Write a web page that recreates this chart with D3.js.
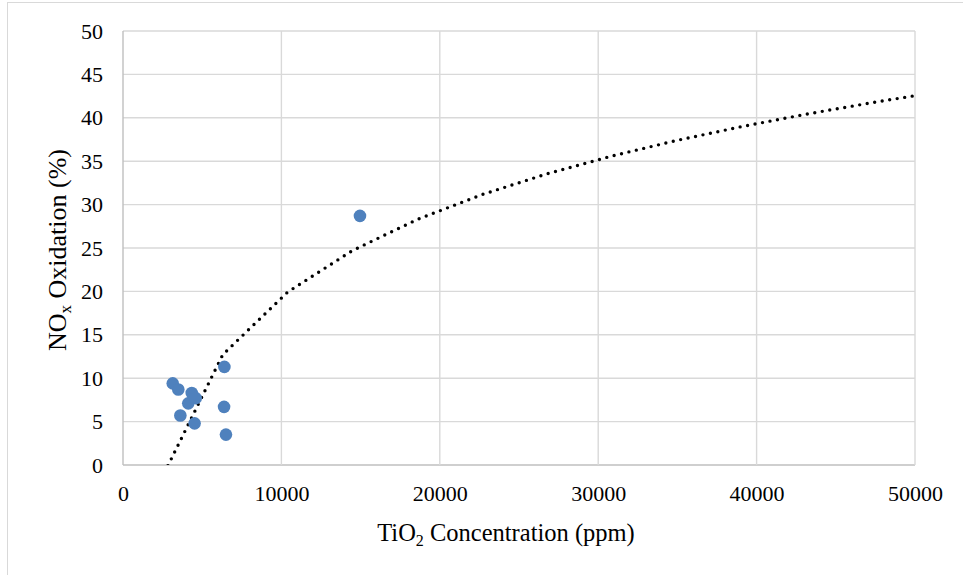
<!DOCTYPE html>
<html>
<head>
<meta charset="utf-8">
<script src="https://cdn.jsdelivr.net/npm/d3@7"></script>
<style>
  body { margin: 0; background: #fff; }
  svg text { font-family: 'Liberation Serif', 'Times New Roman', 'DejaVu Serif', serif !important; fill: #000; }
</style>
</head>
<body>
<div class="container"></div>
<script>
// measured points (TiO2 ppm, NOx oxidation %)
const tio2 = [3140, 3490, 4340, 4120, 4590, 3620, 4520, 6400, 6380, 6500, 14960];
const noxOx = [9.4, 8.7, 8.3, 7.1, 7.7, 5.7, 4.8, 11.3, 6.7, 3.5, 28.7];

// logarithmic trendline y = a*ln(x) + b
const trendSlope = 14.4;
const trendIntercept = -113.26;

const xTicks = [0, 10000, 20000, 30000, 40000, 50000];
const yTicks = [0, 5, 10, 15, 20, 25, 30, 35, 40, 45, 50];

const width = 963;
const height = 575;
const padding = { top: 31, left: 123, right: 48, bottom: 110 };
const innerW = width - padding.left - padding.right;
const innerH = height - padding.top - padding.bottom;
const serif = "'Liberation Serif', 'Times New Roman', 'DejaVu Serif', serif";

const xScale = d3.scaleLinear().domain([0, 50000]).range([0, innerW]);
const yScale = d3.scaleLinear().domain([0, 50]).range([innerH, 0]);

const svg = d3.select('.container')
  .append('svg')
  .attr('width', width)
  .attr('height', height)
  .attr('font-family', serif);

// chart frame
svg.append('rect')
  .attr('x', 7.5).attr('y', 2.5)
  .attr('width', 980).attr('height', 600)
  .attr('fill', '#fff')
  .attr('stroke', '#d9d9d9');

const g = svg.append('g')
  .attr('transform', `translate(${padding.left}, ${padding.top})`);

// gridlines
g.append('g')
  .selectAll('line')
  .data(yTicks)
  .enter()
  .append('line')
  .attr('x1', 0).attr('x2', innerW)
  .attr('y1', d => yScale(d)).attr('y2', d => yScale(d))
  .attr('stroke', d => d === 0 ? '#bfbfbf' : '#d9d9d9')
  .attr('stroke-width', 1.4);

g.append('g')
  .selectAll('line')
  .data(xTicks)
  .enter()
  .append('line')
  .attr('y1', 0).attr('y2', innerH)
  .attr('x1', d => xScale(d)).attr('x2', d => xScale(d))
  .attr('stroke', d => d === 0 ? '#bfbfbf' : '#d9d9d9')
  .attr('stroke-width', 1.4);

// axes (labels only)
const xAxis = d3.axisBottom(xScale).tickValues(xTicks).tickSize(0).tickPadding(20).tickFormat(d3.format('d'));
const yAxis = d3.axisLeft(yScale).tickValues(yTicks).tickSize(0).tickPadding(20).tickFormat(d3.format('d'));

const gx = g.append('g')
  .attr('transform', `translate(0, ${innerH})`)
  .call(xAxis);
const gy = g.append('g').call(yAxis);

[gx, gy].forEach(a => {
  a.attr('font-family', serif).attr('font-size', 22);
  a.select('.domain').remove();
  a.selectAll('text').attr('fill', '#000');
});

// trendline, clipped to the plot area
svg.append('clipPath').attr('id', 'plot-clip')
  .append('rect')
  .attr('x', 0).attr('y', 0)
  .attr('width', innerW).attr('height', innerH);

const trendX = d3.range(2200, 50000, 4100).concat([50000]);
const trendLine = d3.line()
  .x(d => xScale(d))
  .y(d => yScale(trendSlope * Math.log(d) + trendIntercept));

g.append('path')
  .attr('clip-path', 'url(#plot-clip)')
  .attr('d', trendLine(trendX))
  .attr('fill', 'none')
  .attr('stroke', '#000')
  .attr('stroke-width', 3.4)
  .attr('stroke-linecap', 'round')
  .attr('stroke-dasharray', '0 7.6');

// points
g.append('g')
  .selectAll('circle')
  .data(tio2)
  .enter()
  .append('circle')
  .attr('cx', d => xScale(d))
  .attr('cy', (d, i) => yScale(noxOx[i]))
  .attr('r', 6.3)
  .attr('fill', '#4f81bd');

// axis titles
const xTitle = svg.append('text')
  .attr('x', 506)
  .attr('y', 541)
  .attr('text-anchor', 'middle')
  .attr('font-size', 24.5);
xTitle.append('tspan').text('TiO');
xTitle.append('tspan').attr('dy', 5).attr('font-size', 16).text('2');
xTitle.append('tspan').attr('dy', -5).text(' Concentration (ppm)');

const yTitle = svg.append('text')
  .attr('transform', `translate(66, ${padding.top + innerH / 2 + 2}) rotate(-90)`)
  .attr('text-anchor', 'middle')
  .attr('font-size', 26);
yTitle.append('tspan').text('NO');
yTitle.append('tspan').attr('dy', 5).attr('font-size', 17).text('x');
yTitle.append('tspan').attr('dy', -5).text(' Oxidation (%)');
</script>
</body>
</html>
